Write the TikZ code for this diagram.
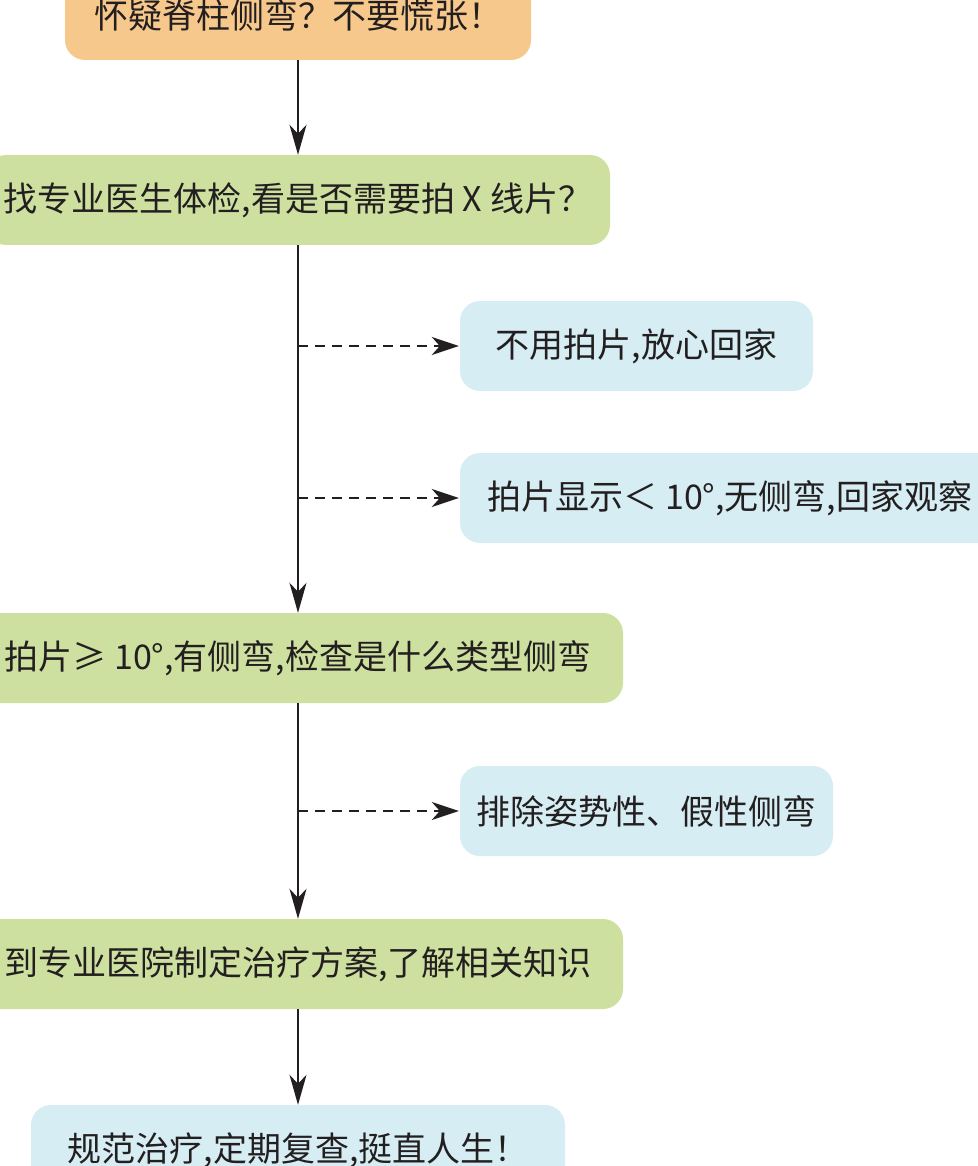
\documentclass[tikz,border=0pt]{standalone}
\usepackage{fontspec}
\setmainfont{Noto Sans CJK SC}
\usepackage{xcolor}
\definecolor{softorange}{RGB}{247,200,140}
\definecolor{softgreen}{RGB}{206,224,160}
\definecolor{softblue}{RGB}{214,237,243}
\definecolor{inkgray}{RGB}{35,31,32}
\usetikzlibrary{positioning,arrows.meta}

\begin{document}
\begin{tikzpicture}[x=1pt,y=-1pt,
	flowbox/.style={
		rectangle,            % shape
		rounded corners=20pt, % soft rounding
		minimum height=90pt,  % all boxes same height
		inner sep=0pt,        % padding
		text=inkgray,         % dark text
		font=\fontsize{34}{40}\selectfont
	},
	startbox/.style={flowbox, fill=softorange},
	stepbox/.style={flowbox, fill=softgreen},
	sidebox/.style={flowbox, fill=softblue},
	mainline/.style={draw=inkgray, line width=2.4pt,
		-{Stealth[length=30pt,width=17pt,inset=9pt]}},
	branch/.style={draw=inkgray, line width=2pt, dash pattern=on 10pt off 7pt,
		-{Stealth[length=27pt,width=18pt,inset=8pt]}, shorten >=1pt}
	]
	\useasboundingbox (0,0) rectangle (977,1166);

	% main steps
	\node[startbox, minimum width=466pt] (doubt) at (298,15) {怀疑脊柱侧弯？不要慌张！};
	\node[stepbox, minimum width=624pt] (exam) at (298,200) {找专业医生体检,看是否需要拍 X 线片？};
	\node[stepbox, minimum width=650pt] (curve) at (298,658) {拍片≥ 10°,有侧弯,检查是什么类型侧弯};
	\node[stepbox, minimum width=650pt] (plan) at (298,964) {到专业医院制定治疗方案,了解相关知识};
	\node[sidebox, minimum width=534pt] (treat) at (298,1150) {规范治疗,定期复查,挺直人生！};

	% side results
	\node[sidebox, minimum width=353pt] (nofilm) at (636.5,346) {不用拍片,放心回家};
	\node[sidebox, minimum width=540pt] (small) at (730,498) {拍片显示＜ 10°,无侧弯,回家观察};
	\node[sidebox, minimum width=373pt] (posture) at (646.5,811) {排除姿势性、假性侧弯};

	\coordinate (fork1) at (298,346);
	\coordinate (fork2) at (298,498);
	\coordinate (fork3) at (298,811);

	\draw[mainline] (doubt) -- (exam);
	\draw[mainline] (exam) -- (curve);
	\draw[mainline] (curve) -- (plan);
	\draw[mainline] (plan) -- (treat);

	\draw[branch] (fork1) -- (nofilm);
	\draw[branch] (fork2) -- (small);
	\draw[branch] (fork3) -- (posture);
\end{tikzpicture}
\end{document}
